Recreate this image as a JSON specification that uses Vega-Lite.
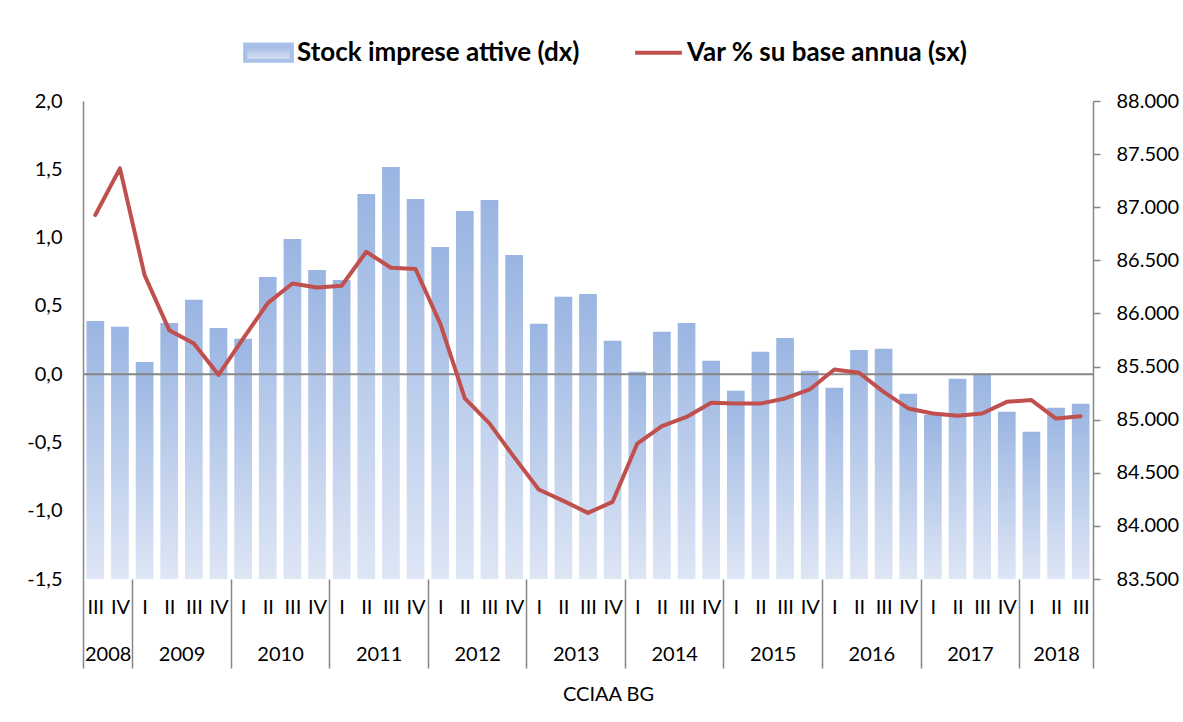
{
  "$schema": "https://vega.github.io/schema/vega-lite/v6.json",
  "autosize": {"type": "none"},
  "padding": {"left": 83, "top": 101, "right": 90, "bottom": 143},
  "width": 1010,
  "height": 478,
  "background": "white",
  "data": {"values": [
    {"idx": 0, "year": 2008, "q": "III", "stock": 85930, "var": 1.165},
    {"idx": 1, "year": 2008, "q": "IV", "stock": 85874, "var": 1.507},
    {"idx": 2, "year": 2009, "q": "I", "stock": 85544, "var": 0.725},
    {"idx": 3, "year": 2009, "q": "II", "stock": 85911, "var": 0.322},
    {"idx": 4, "year": 2009, "q": "III", "stock": 86128, "var": 0.225},
    {"idx": 5, "year": 2009, "q": "IV", "stock": 85864, "var": -0.005},
    {"idx": 6, "year": 2010, "q": "I", "stock": 85761, "var": 0.26},
    {"idx": 7, "year": 2010, "q": "II", "stock": 86344, "var": 0.52},
    {"idx": 8, "year": 2010, "q": "III", "stock": 86702, "var": 0.664},
    {"idx": 9, "year": 2010, "q": "IV", "stock": 86410, "var": 0.635},
    {"idx": 10, "year": 2011, "q": "I", "stock": 86316, "var": 0.647},
    {"idx": 11, "year": 2011, "q": "II", "stock": 87125, "var": 0.896},
    {"idx": 12, "year": 2011, "q": "III", "stock": 87379, "var": 0.779},
    {"idx": 13, "year": 2011, "q": "IV", "stock": 87078, "var": 0.769},
    {"idx": 14, "year": 2012, "q": "I", "stock": 86626, "var": 0.371},
    {"idx": 15, "year": 2012, "q": "II", "stock": 86965, "var": -0.178},
    {"idx": 16, "year": 2012, "q": "III", "stock": 87069, "var": -0.361},
    {"idx": 17, "year": 2012, "q": "IV", "stock": 86551, "var": -0.608},
    {"idx": 18, "year": 2013, "q": "I", "stock": 85902, "var": -0.845},
    {"idx": 19, "year": 2013, "q": "II", "stock": 86156, "var": -0.928},
    {"idx": 20, "year": 2013, "q": "III", "stock": 86184, "var": -1.016},
    {"idx": 21, "year": 2013, "q": "IV", "stock": 85742, "var": -0.935},
    {"idx": 22, "year": 2014, "q": "I", "stock": 85450, "var": -0.508},
    {"idx": 23, "year": 2014, "q": "II", "stock": 85827, "var": -0.381},
    {"idx": 24, "year": 2014, "q": "III", "stock": 85911, "var": -0.313},
    {"idx": 25, "year": 2014, "q": "IV", "stock": 85554, "var": -0.21},
    {"idx": 26, "year": 2015, "q": "I", "stock": 85272, "var": -0.215},
    {"idx": 27, "year": 2015, "q": "II", "stock": 85639, "var": -0.215},
    {"idx": 28, "year": 2015, "q": "III", "stock": 85770, "var": -0.178},
    {"idx": 29, "year": 2015, "q": "IV", "stock": 85460, "var": -0.112},
    {"idx": 30, "year": 2016, "q": "I", "stock": 85300, "var": 0.034},
    {"idx": 31, "year": 2016, "q": "II", "stock": 85657, "var": 0.01},
    {"idx": 32, "year": 2016, "q": "III", "stock": 85667, "var": -0.13},
    {"idx": 33, "year": 2016, "q": "IV", "stock": 85243, "var": -0.251},
    {"idx": 34, "year": 2017, "q": "I", "stock": 85046, "var": -0.288},
    {"idx": 35, "year": 2017, "q": "II", "stock": 85385, "var": -0.305},
    {"idx": 36, "year": 2017, "q": "III", "stock": 85432, "var": -0.288},
    {"idx": 37, "year": 2017, "q": "IV", "stock": 85074, "var": -0.203},
    {"idx": 38, "year": 2018, "q": "I", "stock": 84886, "var": -0.19},
    {"idx": 39, "year": 2018, "q": "II", "stock": 85112, "var": -0.325},
    {"idx": 40, "year": 2018, "q": "III", "stock": 85149, "var": -0.308}
  ]},
  "layer": [
    {
      "mark": {"type": "bar", "size": 17.7, "fill": {"gradient": "linear", "x1": 0, "y1": 0, "x2": 0, "y2": 1, "stops": [{"offset": 0, "color": "#9AB5E2"}, {"offset": 1, "color": "#DEE6F5"}]}},
      "encoding": {
        "x": {"field": "idx", "type": "quantitative", "scale": {"domain": [-0.5, 40.5], "nice": false, "zero": false, "padding": 0},
          "axis": {"orient": "bottom", "values": [0,1,2,3,4,5,6,7,8,9,10,11,12,13,14,15,16,17,18,19,20,21,22,23,24,25,26,27,28,29,30,31,32,33,34,35,36,37,38,39,40],
            "labelExpr": "['III','IV','I','II'][datum.value % 4]", "ticks": false, "domain": false, "grid": false, "title": null,
            "labelPadding": 28, "labelBaseline": "middle", "labelFlush": false, "labelOverlap": false}},
        "y": {"field": "stock", "type": "quantitative", "scale": {"domain": [83500, 88000], "nice": false, "zero": false},
          "axis": {"orient": "right", "values": [83500, 84000, 84500, 85000, 85500, 86000, 86500, 87000, 87500, 88000], "format": ",.0f",
            "tickSize": 7, "labelPadding": 16, "grid": false, "title": null, "domainWidth": 1.5, "tickWidth": 1.5}},
        "y2": {"datum": 83500}
      }
    },
    {
      "data": {"values": [{}]},
      "mark": {"type": "rule", "color": "#868686", "strokeWidth": 2},
      "encoding": {
        "x": {"datum": -0.5, "type": "quantitative",
          "axis": {"orient": "bottom", "values": [0.5, 3.5, 7.5, 11.5, 15.5, 19.5, 23.5, 27.5, 31.5, 35.5, 39],
            "labelExpr": "'' + (floor((datum.value + 2) / 4) + 2008)", "ticks": false, "domain": false, "grid": false,
            "labelPadding": 75, "labelBaseline": "middle", "labelFlush": false, "labelOverlap": false,
            "title": "CCIAA BG", "titleFont": "Lato", "titleFontSize": 20, "titleFontWeight": "normal", "titleColor": "#000",
            "titleX": 525, "titleY": 115, "titleBaseline": "middle"}},
        "x2": {"datum": 40.5},
        "y": {"datum": 0, "type": "quantitative", "scale": {"domain": [-1.5, 2], "nice": false, "zero": false}, "axis": null}
      }
    },
    {
      "mark": {"type": "line", "strokeWidth": 4, "strokeJoin": "round", "strokeCap": "round"},
      "encoding": {
        "x": {"field": "idx", "type": "quantitative",
          "axis": {"orient": "bottom", "values": [-0.5, 1.5, 5.5, 9.5, 13.5, 17.5, 21.5, 25.5, 29.5, 33.5, 37.5, 40.5],
            "labels": false, "domain": false, "grid": false, "ticks": true, "tickSize": 89, "tickWidth": 1.5, "title": null}},
        "y": {"field": "var", "type": "quantitative", "scale": {"domain": [-1.5, 2], "nice": false, "zero": false},
          "axis": {"orient": "left", "values": [-1.5, -1, -0.5, 0, 0.5, 1, 1.5, 2], "format": ".1f", "ticks": false,
            "labelPadding": 21, "grid": false, "title": null, "domainWidth": 1.5}},
        "color": {"datum": "Var % su base annua (sx)",
          "scale": {"domain": ["Stock imprese attive (dx)", "Var % su base annua (sx)"], "range": ["#A9C0E8", "#C0504D"]},
          "legend": {"orient": "none", "legendX": 160, "legendY": -74, "direction": "horizontal", "title": null,
            "padding": 0, "labelFont": "Lato", "labelFontSize": 26, "labelFontWeight": "bold", "labelColor": "#000",
            "labelOffset": 3, "columnPadding": 47, "symbolSize": 2180, "labelLimit": 500,
            "encoding": {"symbols": {
              "shape": {"condition": {"test": "datum.value === 'Stock imprese attive (dx)'", "value": "M-1,-0.35H1V0.35H-1Z"}, "value": "M-1,-0.35L-1,-0.35M-1,0H1M-1,0.35L-1,0.35"},
              "fill": {"condition": {"test": "datum.value === 'Stock imprese attive (dx)'", "value": {"gradient": "linear", "x1": 0, "y1": 0, "x2": 0, "y2": 1, "stops": [{"offset": 0, "color": "#9AB5E2"}, {"offset": 1, "color": "#DEE6F5"}]}}, "value": "transparent"},
              "stroke": {"condition": {"test": "datum.value === 'Stock imprese attive (dx)'", "value": "transparent"}, "value": "#C0504D"},
              "strokeWidth": {"value": 4},
              "strokeCap": {"value": "butt"}
            }}}
        }
      }
    }
  ],
  "resolve": {"scale": {"y": "independent"}, "axis": {"x": "independent", "y": "independent"}},
  "config": {
    "font": "Lato",
    "view": {"stroke": null},
    "locale": {"number": {"decimal": ",", "thousands": ".", "grouping": [3], "currency": ["", " €"], "minus": "-"}},
    "axis": {"labelFont": "Lato", "labelFontSize": 20, "labelColor": "#000", "domainColor": "#868686", "tickColor": "#868686"}
  }
}
